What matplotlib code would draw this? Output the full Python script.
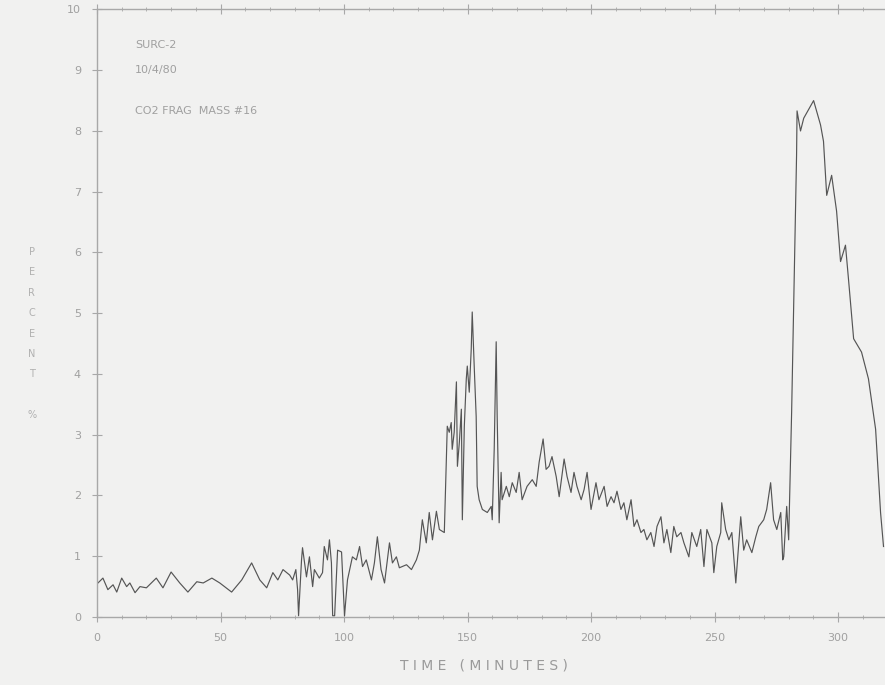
import matplotlib
matplotlib.use("Agg")
from matplotlib import pyplot as plt
from matplotlib.ticker import MultipleLocator

# time (minutes) and percent
time_min = [
    0.4, 2.4, 4.4, 6.5, 8.0, 10.0, 12.0, 13.3, 15.4, 17.4, 20.0, 24.0, 26.7,
    30.0, 33.5, 36.8, 40.4, 43.0, 46.5, 49.7, 54.5, 58.6, 62.6, 65.9, 68.7,
    71.2, 73.2, 75.3, 78.0, 79.2, 80.5, 81.2, 81.6, 82.8, 83.2, 84.8, 86.0,
    87.3, 88.0, 90.0, 91.3, 92.0, 93.3, 94.1, 94.9, 95.4, 96.2, 97.4, 99.0,
    100.2, 101.4, 103.4, 105.0, 106.3, 107.5, 109.0, 111.1, 112.3, 113.5,
    115.0, 116.4, 118.4, 119.6, 121.2, 122.4, 125.3, 127.3, 129.3, 130.5,
    131.7, 133.3, 134.5, 135.8, 137.4, 138.6, 140.6, 141.8, 142.6, 143.4,
    143.8, 144.6, 145.5, 145.9, 146.7, 147.5, 147.9, 148.7, 149.5, 149.9,
    150.7, 151.5, 151.9, 152.7, 153.5, 153.9, 154.7, 156.0, 158.0, 159.6,
    160.0, 160.8, 161.6, 162.0, 162.8, 163.6, 164.0, 165.7, 166.9, 168.1,
    169.7, 170.9, 172.1, 174.1, 176.2, 177.8, 179.0, 180.6, 181.8, 183.0,
    184.2, 185.9, 187.1, 189.1, 190.3, 191.9, 193.1, 194.3, 196.0, 197.2,
    198.4, 200.0, 202.0, 203.2, 205.3, 206.5, 208.1, 209.3, 210.5, 212.1,
    213.3, 214.5, 216.2, 217.4, 218.6, 220.2, 221.4, 222.6, 224.2, 225.5,
    226.7, 228.3, 229.5, 230.7, 232.3, 233.5, 234.7, 236.4, 237.6, 239.6,
    240.8, 242.8, 244.4, 245.7, 246.9, 248.9, 249.7, 250.9, 252.5, 252.9,
    254.5, 255.8, 257.0, 258.6, 259.8, 260.6, 261.8, 263.0, 265.1, 266.7,
    267.9, 269.9, 271.1, 272.7, 273.9, 275.2, 276.8, 277.6, 278.0, 279.2,
    280.0, 281.2, 283.2, 283.4, 284.8, 286.1, 290.1, 292.9, 294.1, 295.4,
    297.4, 299.4, 301.0, 303.0, 304.2, 306.3, 309.5, 312.3, 315.2, 317.2,
    318.4,
]
percent = [
    0.56, 0.64, 0.45, 0.53, 0.41, 0.64, 0.50, 0.56, 0.40, 0.50, 0.48, 0.64,
    0.48, 0.74, 0.56, 0.41, 0.58, 0.56, 0.64, 0.56, 0.41, 0.61, 0.89, 0.61,
    0.48, 0.73, 0.61, 0.78, 0.69, 0.61, 0.78, 0.45, 0.02, 0.94, 1.14, 0.66,
    0.99, 0.50, 0.78, 0.64, 0.73, 1.16, 0.94, 1.27, 0.89, 0.02, 0.02, 1.10,
    1.07, 0.02, 0.61, 0.99, 0.94, 1.16, 0.83, 0.94, 0.61, 0.89, 1.32,
    0.78, 0.56, 1.22, 0.89, 0.99, 0.81, 0.86, 0.78, 0.94, 1.10,
    1.60, 1.22, 1.72, 1.27, 1.74, 1.44, 1.39, 3.14, 3.04, 3.20,
    2.76, 3.04, 3.87, 2.48, 2.88, 3.42, 1.60, 3.14, 3.92, 4.13,
    3.70, 4.41, 5.02, 4.13, 3.30, 2.15, 1.93, 1.77, 1.72, 1.82,
    1.60, 2.76, 4.53, 3.30, 1.55, 2.38, 1.93, 2.15, 1.98, 2.21,
    2.05, 2.38, 1.93, 2.15, 2.26, 2.15, 2.55, 2.93, 2.43, 2.48,
    2.64, 2.31, 1.98, 2.60, 2.31, 2.05, 2.38, 2.15, 1.93, 2.10,
    2.38, 1.77, 2.21, 1.93, 2.15, 1.82, 1.98, 1.88, 2.07, 1.77,
    1.88, 1.60, 1.93, 1.49, 1.60, 1.39, 1.44, 1.27, 1.39, 1.16,
    1.49, 1.65, 1.22, 1.44, 1.06, 1.49, 1.32, 1.39, 1.22, 0.99,
    1.39, 1.16, 1.44, 0.83, 1.44, 1.22, 0.73, 1.16, 1.39, 1.88,
    1.44, 1.27, 1.39, 0.56, 1.22, 1.65, 1.10, 1.27, 1.06, 1.32,
    1.49, 1.60, 1.77, 2.21, 1.60, 1.44, 1.72, 0.94, 0.99, 1.82,
    1.27, 3.37, 7.60, 8.33, 8.00, 8.21, 8.50, 8.10, 7.83, 6.94,
    7.27, 6.68, 5.85, 6.12, 5.57, 4.58, 4.36, 3.92, 3.09, 1.72,
    1.16,
]

x_ticks = [0, 50, 100, 150, 200, 250, 300]
y_ticks = list(range(0, 11))
header_lines = ["SURC-2", "10/4/80", "CO2 FRAG  MASS #16"]

paper = "#f1f1f0"
ink = "#a8a8a8"

fig = plt.figure(figsize=(8.85, 6.85), dpi=100, facecolor=paper)
ax = fig.add_axes([0.1096, 0.0993, 0.8904, 0.8869], facecolor=paper)

ax.plot(time_min, percent, color="#555555", linewidth=0.85)

ax.set_xlim(0, 319)
ax.set_ylim(0, 10)
ax.set_xticks(x_ticks)
ax.set_yticks(y_ticks)
ax.xaxis.set_minor_locator(MultipleLocator(10))

for side in ["left", "bottom", "top"]:
    ax.spines[side].set_color(ink)
    ax.spines[side].set_linewidth(1.0)
ax.spines["right"].set_visible(False)

ax.tick_params(which="major", direction="inout", length=7, color=ink,
               labelcolor="#a0a0a0", labelsize=8, top=True, pad=8)
ax.tick_params(which="minor", direction="inout", length=2.5, color=ink,
               top=True)

# header text block
for line, yv in zip(header_lines, [9.42, 9.0, 8.33]):
    ax.text(15.4, yv, line, fontsize=8, color="#a0a0a0", va="center",
            ha="left")

fig.text(0.547, 0.029, "T I M E   ( M I N U T E S )", ha="center",
         va="center", fontsize=10, color="#9a9a9a")
fig.text(0.036, 0.513, "P\nE\nR\nC\nE\nN\nT\n\n%", ha="center", va="center",
         fontsize=7, color="#b0b0b0", linespacing=2.3)

fig.savefig("out.png", dpi=100, facecolor=paper)
